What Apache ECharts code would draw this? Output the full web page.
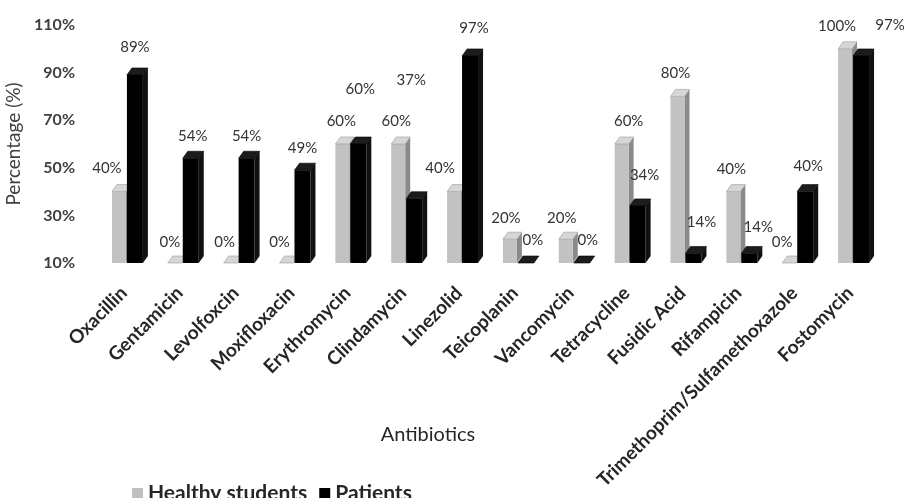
<!DOCTYPE html>
<html>
<head>
<meta charset="utf-8">
<title>Antibiotic resistance</title>
<script src="https://cdn.jsdelivr.net/npm/echarts@6/dist/echarts.min.js"></script>
<style>
  html, body { margin: 0; padding: 0; background: #fff; }
  #chart { width: 906px; height: 498px; }
</style>
</head>
<body>
<div id="chart"></div>
<script>
// Resistance rates by antibiotic
const categories = [
  'Oxacillin', 'Gentamicin', 'Levolfoxcin', 'Moxifloxacin', 'Erythromycin',
  'Clindamycin', 'Linezolid', 'Teicoplanin', 'Vancomycin', 'Tetracycline',
  'Fusidic Acid', 'Rifampicin', 'Trimethoprim/Sulfamethoxazole', 'Fostomycin'
];
const healthyStudents = [40, 0, 0, 0, 60, 60, 40, 20, 20, 60, 80, 40, 0, 100];
const patients = [89, 54, 54, 49, 60, 37, 97, 0, 0, 34, 14, 14, 40, 97];
const seriesNames = ['Healthy students', 'Patients'];

const Y_MIN = 10, Y_MAX = 110, Y_STEP = 20;
const FONT = 'Lato, "Open Sans", sans-serif';

// Hand-placed label adjustments [dx, dy] in pixels
const healthyLabelShift = [[-8,0],[-1,2],[-2,2],[-3,2],[3,0],[2,0],[-10,0],[0,2],[0,2],[11,0],[2,0],[2,1],[-3,2],[-4,0]];
const patientLabelShift = [[0,-6],[2,0],[0,0],[0,0],[2,-33],[-3,-97],[4,-6],[7,-1],[6,-1],[7,-9],[8,-9],[9,-4],[3,-3],[29,-9]];

// Pseudo-3D column: front face, side face and top face
function columnRenderer(look) {
  return function (params, api) {
    const i = api.value(0);
    const v = api.value(1);
    const top = api.coord([i, Math.max(v, Y_MIN)]);
    const base = api.coord([i, Y_MIN]);
    const cw = api.size([1, 0])[0];
    const cx = top[0];
    const x0 = cx + look.left * cw;
    const x1 = cx + look.right * cw;
    const yt = top[1], yb = base[1];
    const dx = 5, dy = 7;
    const shift = look.shift[i] || [0, 0];
    const lx = (x0 + x1) / 2 + look.labelDx + shift[0];
    const ly = yt + look.labelDy + shift[1];
    return {
      type: 'group',
      children: [
        {
          type: 'polygon',
          shape: { points: [[x1, yt], [x1 + dx, yt - dy], [x1 + dx, yb - dy], [x1, yb]] },
          style: { fill: look.side }
        },
        {
          type: 'rect',
          shape: { x: x0, y: yt, width: x1 - x0, height: Math.max(0, yb - yt) },
          style: { fill: look.front }
        },
        {
          type: 'polygon',
          shape: { points: [[x0, yt], [x1, yt], [x1 + dx, yt - dy], [x0 + dx, yt - dy]] },
          style: { fill: look.top, stroke: look.edge, lineWidth: 0.6 }
        },
        {
          type: 'text',
          x: lx,
          y: ly,
          style: {
            text: v + '%',
            fill: '#333',
            fontSize: 15,
            fontFamily: FONT,
            align: 'center',
            verticalAlign: 'middle'
          }
        }
      ]
    };
  };
}

const chart = echarts.init(document.getElementById('chart'), null, { renderer: 'canvas' });

chart.setOption({
  backgroundColor: '#fff',
  animation: false,
  grid: { left: 101, right: 23, top: 25, bottom: 235, containLabel: false, outerBoundsMode: 'none' },
  legend: {
    data: seriesNames,
    left: 127,
    top: 478,
    itemWidth: 11,
    itemHeight: 11,
    itemGap: 12,
    icon: 'rect',
    textStyle: { fontSize: 21, fontWeight: 'bold', color: '#262626', fontFamily: FONT }
  },
  xAxis: {
    type: 'category',
    data: categories,
    axisLine: { show: false },
    axisTick: { show: false },
    axisLabel: {
      interval: 0,
      rotate: 45,
      margin: 22,
      padding: [0, 7, 0, 0],
      fontSize: 19,
      fontWeight: 'bold',
      color: '#262626',
      fontFamily: FONT
    }
  },
  yAxis: {
    type: 'value',
    min: Y_MIN,
    max: Y_MAX,
    interval: Y_STEP,
    name: 'Percentage (%)',
    nameLocation: 'middle',
    nameGap: 58,
    nameTextStyle: { fontSize: 19, color: '#404040', fontFamily: FONT },
    axisLine: { show: false },
    axisTick: { show: false },
    splitLine: { show: false },
    axisLabel: {
      formatter: '{value}%',
      margin: 26,
      fontSize: 16,
      fontWeight: 'bold',
      color: '#404040',
      fontFamily: FONT
    }
  },
  graphic: [
    {
      type: 'text',
      x: 428,
      y: 435,
      style: {
        text: 'Antibiotics',
        fontSize: 20,
        fontFamily: FONT,
        fill: '#262626',
        align: 'center',
        verticalAlign: 'middle'
      }
    }
  ],
  series: [
    {
      name: seriesNames[0],
      type: 'custom',
      itemStyle: { color: '#c0c0c0' },
      encode: { x: 0, y: 1 },
      data: healthyStudents.map((v, i) => [i, v]),
      renderItem: columnRenderer({
        left: -0.304, right: -0.054,
        front: '#c2c2c2', side: '#8a8a8a', top: '#d6d6d6', edge: '#9a9a9a',
        labelDx: -4, labelDy: -23, shift: healthyLabelShift
      })
    },
    {
      name: seriesNames[1],
      type: 'custom',
      itemStyle: { color: '#000' },
      encode: { x: 0, y: 1 },
      data: patients.map((v, i) => [i, v]),
      renderItem: columnRenderer({
        left: -0.036, right: 0.25,
        front: '#000', side: '#111', top: '#1c1c1c', edge: '#000',
        labelDx: 0, labelDy: -22, shift: patientLabelShift
      })
    }
  ]
});
</script>
</body>
</html>
